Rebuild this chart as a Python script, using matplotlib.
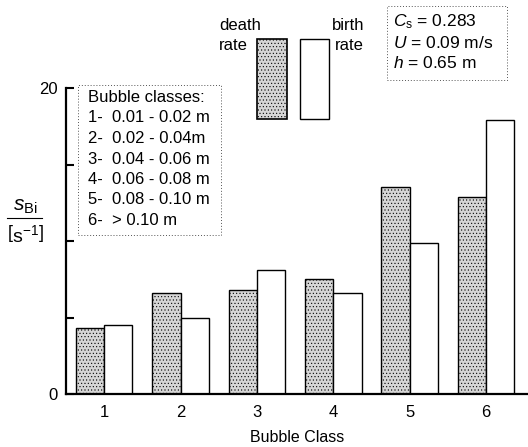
import matplotlib
matplotlib.use("Agg")
import matplotlib.pyplot as plt
from matplotlib.patches import Rectangle
from matplotlib.lines import Line2D
import numpy as np

plt.rcParams['font.family'] = ['Liberation Sans', 'DejaVu Sans']
plt.rcParams['mathtext.fontset'] = 'custom'
plt.rcParams['mathtext.rm'] = 'Liberation Sans'
plt.rcParams['mathtext.it'] = 'Liberation Sans:italic'
plt.rcParams['hatch.color'] = '#666666'
plt.rcParams['hatch.linewidth'] = 0.4

# data
classes = [1, 2, 3, 4, 5, 6]
death_rate = [4.3, 6.6, 6.8, 7.5, 13.5, 12.9]
birth_rate = [4.5, 5.0, 8.1, 6.6, 9.9, 17.9]
class_labels = ['1-  0.01 - 0.02 m', '2-  0.02 - 0.04m', '3-  0.04 - 0.06 m',
                '4-  0.06 - 0.08 m', '5-  0.08 - 0.10 m', '6-  > 0.10 m']
params = ['$C_\\mathrm{s}$ = 0.283', '$U$ = 0.09 m/s', '$h$ = 0.65 m']

W, H = 528, 447
fig = plt.figure(figsize=(W / 100, H / 100), dpi=100)


def px(x, y):
    return x / W, 1 - y / H


ax = fig.add_axes([66 / W, 1 - 394 / H, (W - 66) / W, (394 - 88) / H])

x = np.array(classes)
bw = 0.37
ax.bar(x - bw / 2, death_rate, bw, facecolor='#d6d6d6', edgecolor='black',
       linewidth=1.0, hatch='.....')
ax.bar(x + bw / 2, birth_rate, bw, facecolor='white', edgecolor='black',
       linewidth=1.0)

ax.set_xlim(0.5, 6.55)
ax.set_ylim(0, 20)
ax.set_xticks(classes)
ax.set_yticks([0, 5, 10, 15, 20])
ax.set_yticklabels(['0', '', '', '', '20'])
ax.tick_params(axis='x', length=0, pad=8, labelsize=12)
ax.tick_params(axis='y', direction='in', length=6, width=1.5, labelsize=12, pad=6)
ax.spines['top'].set_visible(False)
ax.spines['right'].set_visible(False)
ax.spines['left'].set_linewidth(1.6)
ax.spines['bottom'].set_linewidth(1.6)
ax.set_xlabel('Bubble Class', fontsize=11.5, labelpad=7)

# y label as a fraction
fig.text(*px(25, 207), r'$s_{\mathrm{Bi}}$', fontsize=15, ha='center', va='center')
fig.add_artist(Line2D([7 / W, 42 / W], [1 - 218 / H, 1 - 218 / H],
                      transform=fig.transFigure, color='black', linewidth=0.8))
fig.text(*px(25, 235), r'$\left[\mathrm{s}^{-1}\right]$', fontsize=14,
         ha='center', va='center')

# bubble classes box
fig.patches.append(Rectangle(px(78, 235), (221 - 78) / W, (235 - 85) / H,
                             transform=fig.transFigure, fill=False,
                             edgecolor='#555555', linewidth=0.7,
                             linestyle=(0, (1, 2))))
fig.text(*px(88, 97), 'Bubble classes:', fontsize=12, va='center')
for i, lab in enumerate(class_labels):
    fig.text(*px(88, 118 + i * 20.5), lab, fontsize=12, va='center')

# legend keys
fig.text(*px(219, 25), 'death', fontsize=12, ha='left', va='center')
fig.text(*px(219, 45), 'rate', fontsize=12, ha='left', va='center')
fig.patches.append(Rectangle(px(257, 119), 30 / W, 80 / H,
                             transform=fig.transFigure, facecolor='#d6d6d6',
                             edgecolor='black', linewidth=1.2, hatch='.....'))
fig.patches.append(Rectangle(px(300, 119), 29 / W, 80 / H,
                             transform=fig.transFigure, facecolor='white',
                             edgecolor='black', linewidth=1.0))
fig.text(*px(364, 25), 'birth', fontsize=12, ha='right', va='center')
fig.text(*px(364, 45), 'rate', fontsize=12, ha='right', va='center')

# parameter box
fig.patches.append(Rectangle(px(387, 80), (507 - 387) / W, 74 / H,
                             transform=fig.transFigure, fill=False,
                             edgecolor='#555555', linewidth=0.7,
                             linestyle=(0, (1, 2))))
for i, p in enumerate(params):
    fig.text(*px(393, 22 + i * 20.5), p, fontsize=12.5, va='center')

fig.savefig('out.png', dpi=100)
